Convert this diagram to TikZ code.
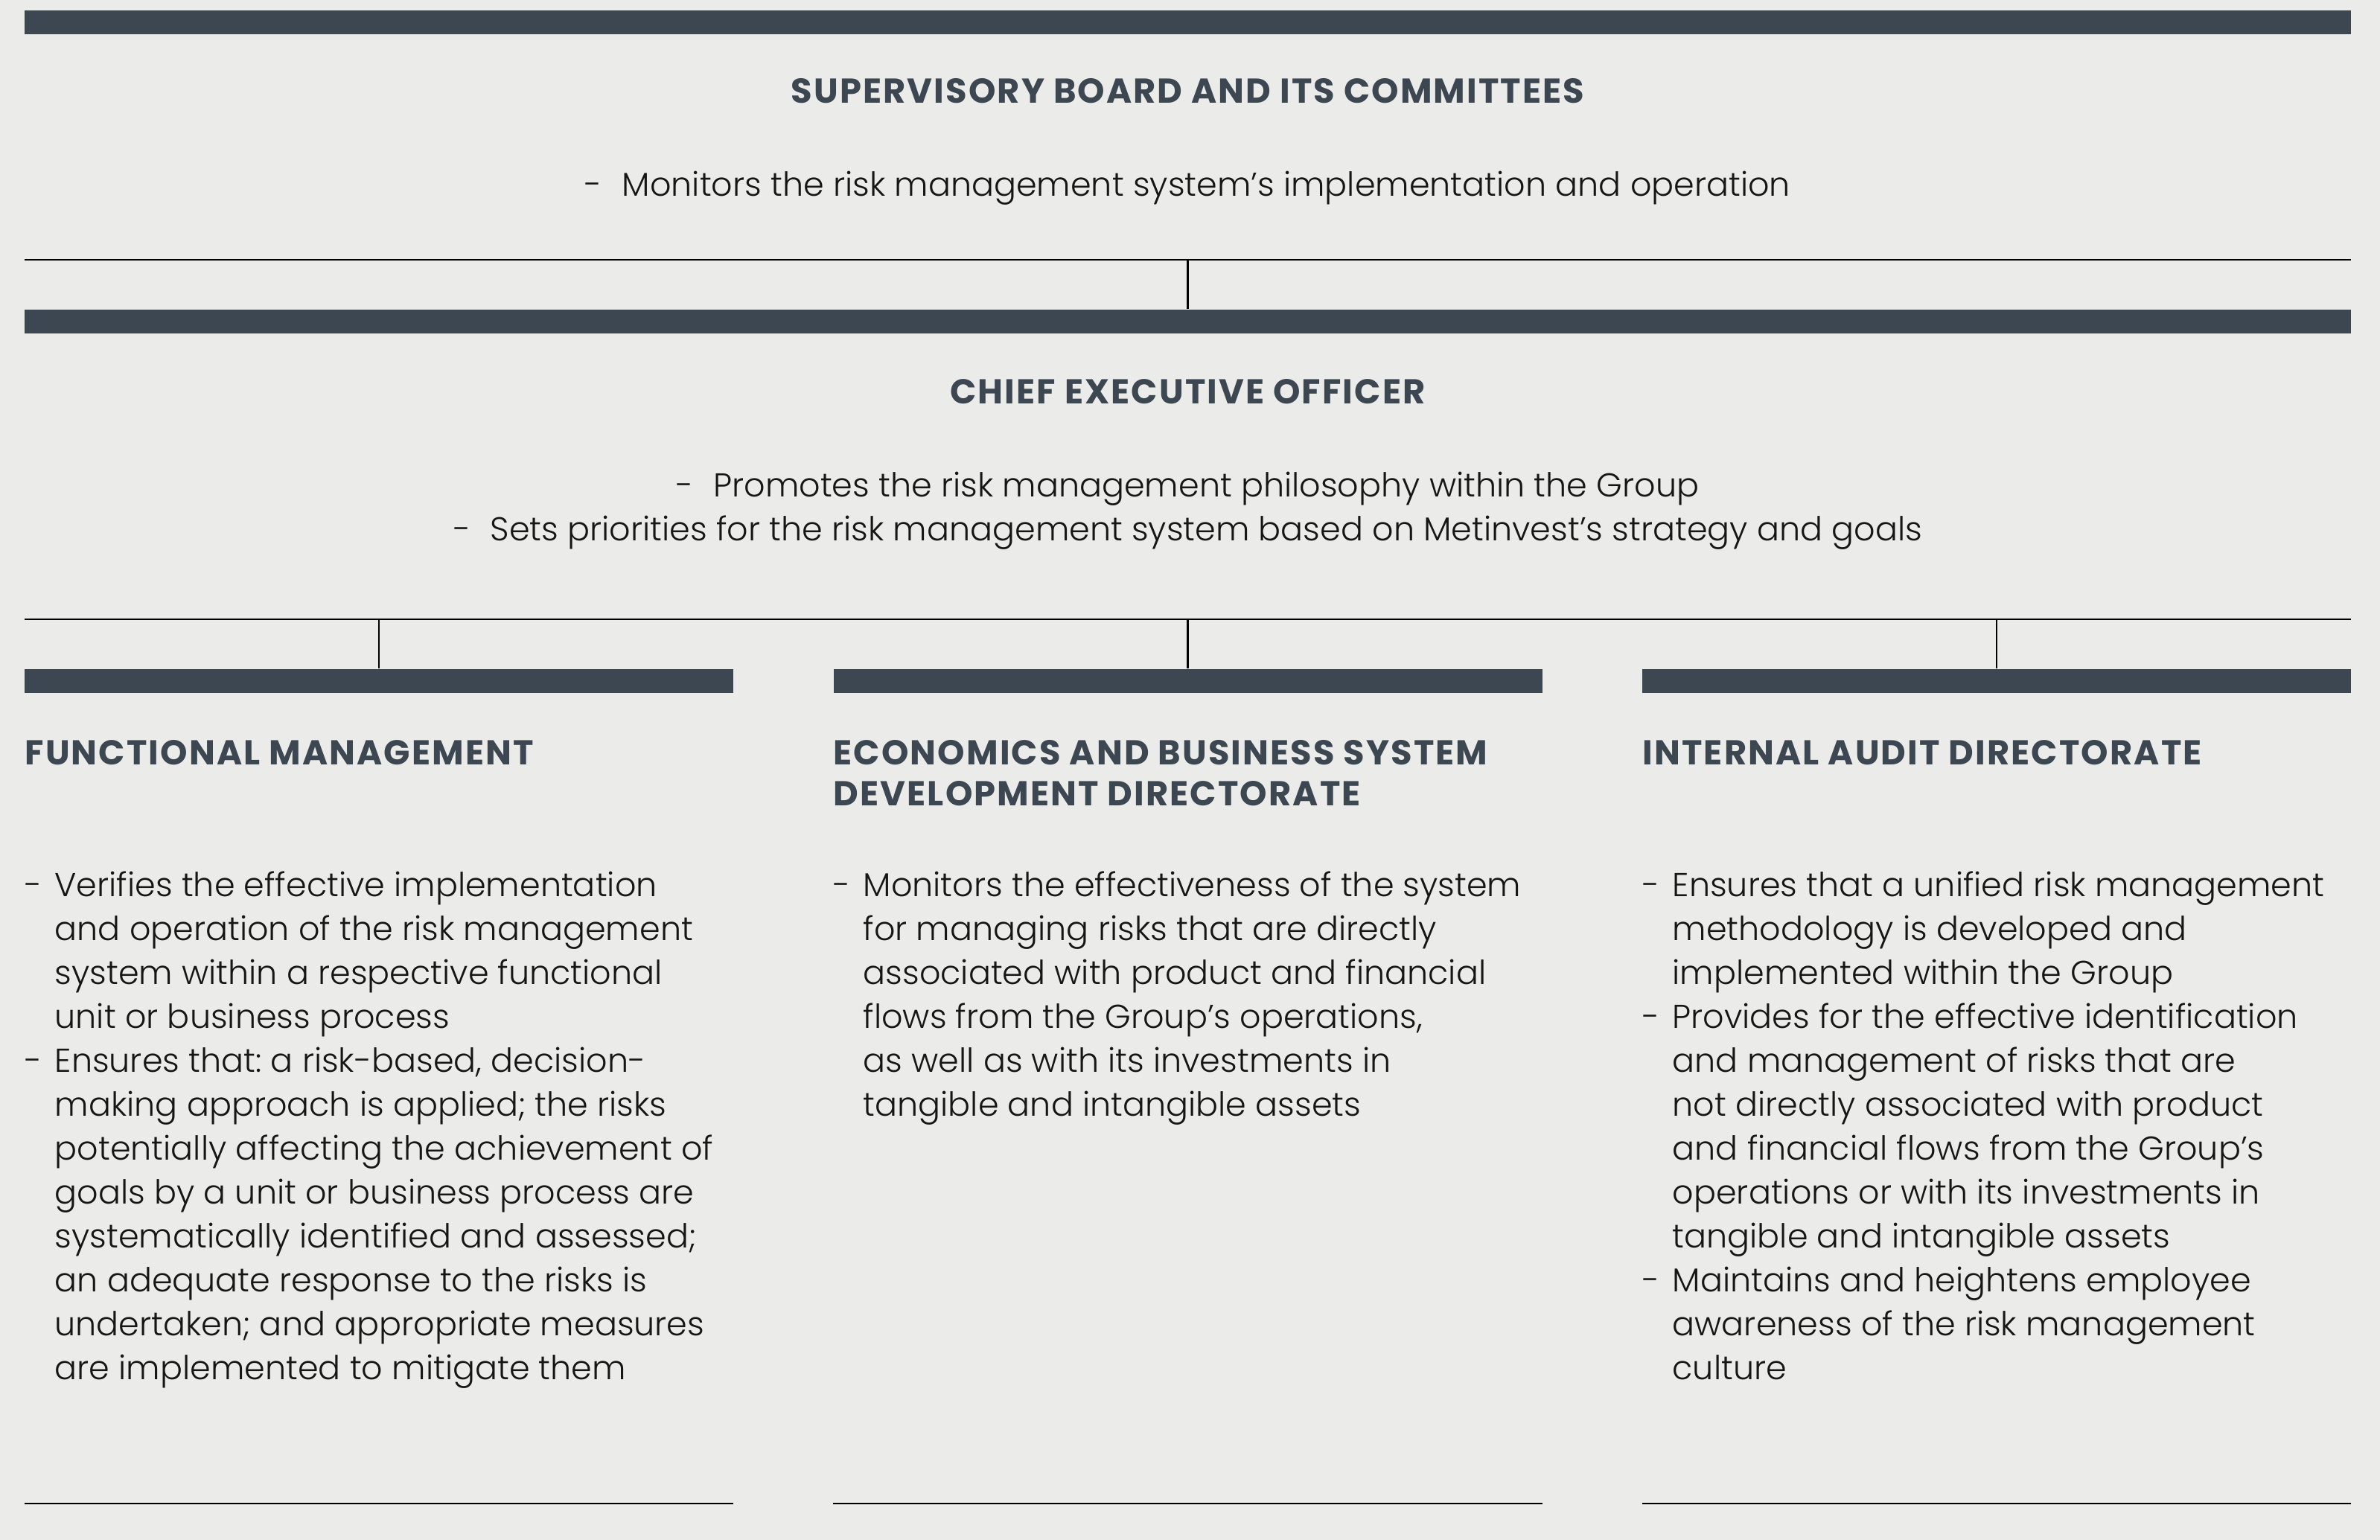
\documentclass[tikz,border=0pt]{standalone}
\usepackage{fontspec}
\setmainfont{Poppins}[UprightFont={* Light}, BoldFont={* Bold}]
\usepackage{tikz}
\usetikzlibrary{positioning}

\definecolor{bgGrey}{HTML}{EBECEA}
\definecolor{barSlate}{HTML}{3D4751}
\definecolor{txtDark}{HTML}{161616}

\tikzstyle{bar} = [rectangle, fill=barSlate, inner sep=0pt, minimum height=0.32cm]
\tikzstyle{headText} = [text=barSlate, font=\fontsize{13.2}{15.6}\selectfont\bfseries\addfontfeature{LetterSpace=4.5}, inner sep=0pt]
\tikzstyle{body} = [text=txtDark, font=\fontsize{12.65}{16.8}\selectfont, inner sep=0pt]
\tikzstyle{colText} = [body, align=left, anchor=north west]
\tikzstyle{sepLine} = [line width=0.7pt]
\tikzstyle{joinLine} = [line width=0.6pt]

\newcommand{\dashitem}{\makebox[0.4cm][l]{-}}
\newcommand{\hang}{\hspace*{0.4cm}}
\frenchspacing

\begin{document}
\begin{tikzpicture}

\fill[bgGrey] (0,0) rectangle (31.97,-20.69);
\useasboundingbox (0,0) rectangle (31.97,-20.69);

% supervisory board
\node (supBar) [bar, minimum width=31.25cm] at (15.955,-0.30) {};
\node (supTitle) [headText] at (15.955,-1.22) {SUPERVISORY BOARD AND ITS COMMITTEES};
\node (supText) [body] at (15.955,-2.53) {-\hspace{0.6em}Monitors the risk management system’s implementation and operation};
\coordinate (supLineL) at (0.33,-3.49);
\coordinate (supLineR) at (31.58,-3.49);
\coordinate (supJoin) at (15.955,-3.49);
\draw [sepLine] (supLineL) -- (supLineR);

% chief executive officer
\node (ceoBar) [bar, minimum width=31.25cm] at (15.955,-4.315) {};
\node (ceoTitle) [headText] at (15.955,-5.26) {CHIEF EXECUTIVE OFFICER};
\node (ceoText) [body, align=center] at (15.955,-6.86) {-\hspace{0.6em}Promotes the risk management philosophy within the Group\\
-\hspace{0.6em}Sets priorities for the risk management system based on Metinvest’s strategy and goals};
\coordinate (ceoLineL) at (0.33,-8.32);
\coordinate (ceoLineR) at (31.58,-8.32);
\draw [sepLine] (ceoLineL) -- (ceoLineR);
\draw [joinLine] (supJoin) -- (ceoBar.north);

% three units
\node (funcBar) [bar, minimum width=9.52cm] at (5.09,-9.145) {};
\node (econBar) [bar, minimum width=9.52cm] at (15.955,-9.145) {};
\node (auditBar) [bar, minimum width=9.52cm] at (26.82,-9.145) {};
\coordinate (funcJoin) at (5.09,-8.32);
\coordinate (econJoin) at (15.955,-8.32);
\coordinate (auditJoin) at (26.82,-8.32);
\draw [joinLine] (funcJoin) -- (funcBar.north);
\draw [joinLine] (econJoin) -- (econBar.north);
\draw [joinLine] (auditJoin) -- (auditBar.north);

\node (funcHead) [headText, anchor=north west, align=left] at (0.33,-9.94) {FUNCTIONAL MANAGEMENT};
\node (econHead) [headText, anchor=north west, align=left] at (11.19,-9.94) {ECONOMICS AND BUSINESS SYSTEM\\DEVELOPMENT DIRECTORATE};
\node (auditHead) [headText, anchor=north west, align=left] at (22.06,-9.94) {INTERNAL AUDIT DIRECTORATE};

\node (funcText) [colText] at (0.33,-11.70) {\dashitem Verifies the effective implementation\\
\hang and operation of the risk management\\
\hang system within a respective functional\\
\hang unit or business process\\
\dashitem Ensures that: a risk-based, decision-\\
\hang making approach is applied; the risks\\
\hang potentially affecting the achievement of\\
\hang goals by a unit or business process are\\
\hang systematically identified and assessed;\\
\hang an adequate response to the risks is\\
\hang undertaken; and appropriate measures\\
\hang are implemented to mitigate them};

\node (econText) [colText] at (11.19,-11.70) {\dashitem Monitors the effectiveness of the system\\
\hang for managing risks that are directly\\
\hang associated with product and financial\\
\hang flows from the Group’s operations,\\
\hang as well as with its investments in\\
\hang tangible and intangible assets};

\node (auditText) [colText] at (22.06,-11.70) {\dashitem Ensures that a unified risk management\\
\hang methodology is developed and\\
\hang implemented within the Group\\
\dashitem Provides for the effective identification\\
\hang and management of risks that are\\
\hang not directly associated with product\\
\hang and financial flows from the Group’s\\
\hang operations or with its investments in\\
\hang tangible and intangible assets\\
\dashitem Maintains and heightens employee\\
\hang awareness of the risk management\\
\hang culture};

% closing rules
\coordinate (funcEndL) at (0.33,-20.20);
\coordinate (funcEndR) at (9.85,-20.20);
\coordinate (econEndL) at (11.19,-20.20);
\coordinate (econEndR) at (20.72,-20.20);
\coordinate (auditEndL) at (22.06,-20.20);
\coordinate (auditEndR) at (31.58,-20.20);
\draw [sepLine] (funcEndL) -- (funcEndR);
\draw [sepLine] (econEndL) -- (econEndR);
\draw [sepLine] (auditEndL) -- (auditEndR);

\end{tikzpicture}
\end{document}
